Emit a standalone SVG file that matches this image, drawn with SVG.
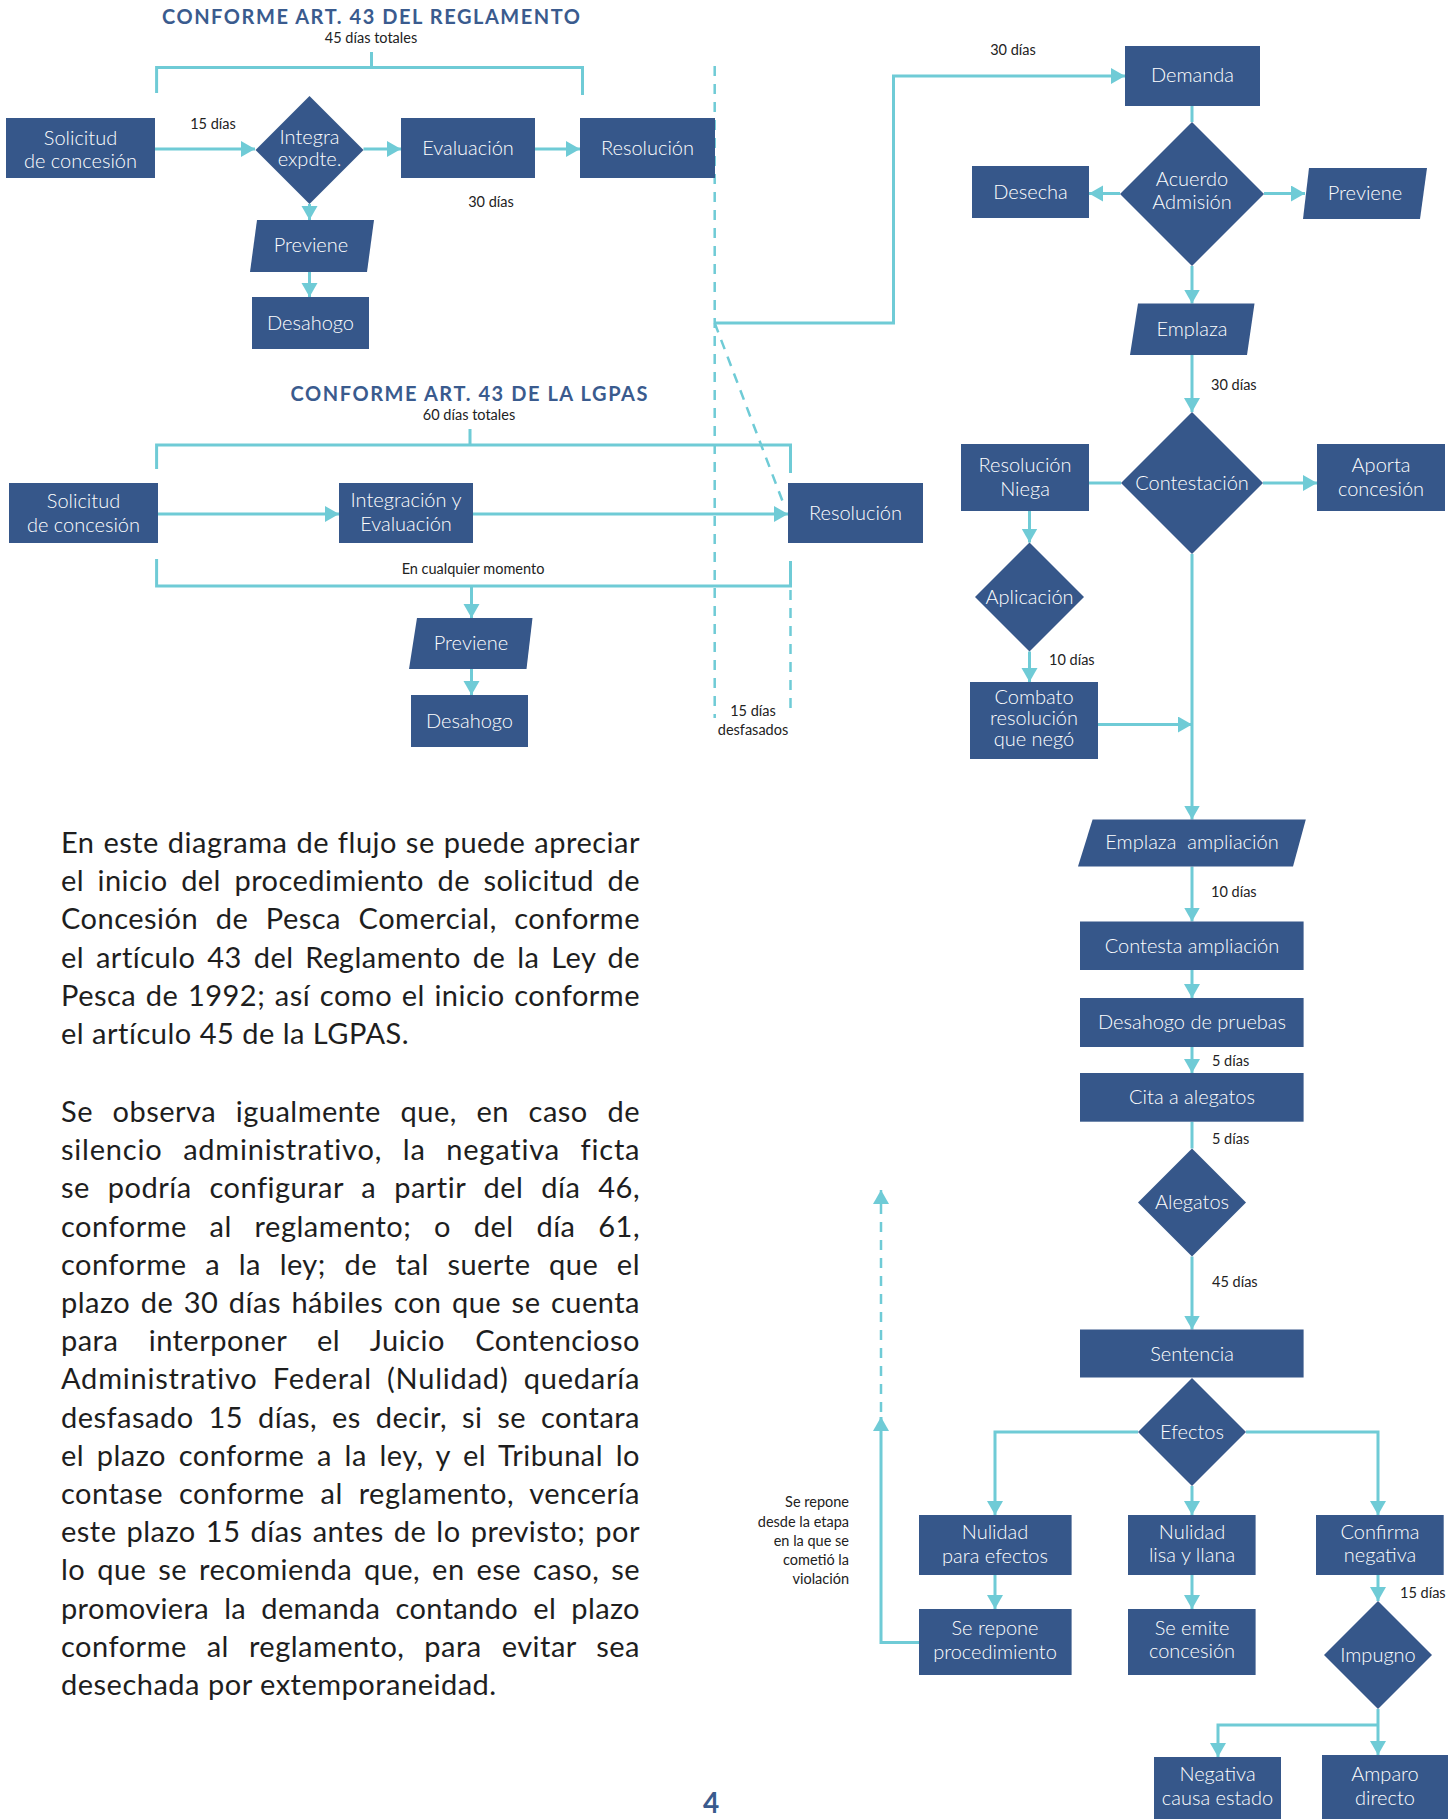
<svg xmlns="http://www.w3.org/2000/svg" width="1453" height="1819" viewBox="0 0 1453 1819">
<style>
.n{fill:#36578a}
.t{font-family:Lato,"Open Sans",sans-serif;font-size:20px;font-weight:300;fill:#fff;text-anchor:middle}
.s{font-family:Lato,"Open Sans",sans-serif;font-size:14.5px;fill:#222}
.m{text-anchor:middle}
.e{text-anchor:end}
.c{stroke:#6fcbd6;stroke-width:3;fill:none}
.d{stroke-dasharray:10 8;stroke-width:2.5}
.p{font-family:Lato,"Open Sans",sans-serif;font-size:29px;letter-spacing:0.5px;fill:#1e1e1e}
.h{font-family:Lato,"Open Sans",sans-serif;font-weight:bold;font-size:20px;fill:#3a5b8e;text-anchor:middle}
</style>
<defs>
<marker id="a" markerUnits="userSpaceOnUse" markerWidth="15" markerHeight="17" refX="14" refY="8" orient="auto">
<path d="M0,0 L14,8 L0,16 Z" fill="#6fcbd6"/>
</marker>
</defs>
<rect width="1453" height="1819" fill="#fff"/>

<g id="connectors">
<path class="c" d="M156.6,93 V67.5 H582.5 V95 M371.5,52 V67.5"/>
<path class="c" d="M155,149 H255" marker-end="url(#a)"/>
<path class="c" d="M363.5,149 H401" marker-end="url(#a)"/>
<path class="c" d="M535,149 H580" marker-end="url(#a)"/>
<path class="c" d="M309.5,204 V220" marker-end="url(#a)"/>
<path class="c" d="M309.5,272 V297" marker-end="url(#a)"/>
<path class="c d" d="M714.7,66 V718"/>
<path class="c d" d="M714.7,323 L784,505"/>
<path class="c d" d="M790.5,590 V713"/>
<path class="c" d="M156.6,469 V445 H790.5 V473 M470,429 V445"/>
<path class="c" d="M158,514 H339" marker-end="url(#a)"/>
<path class="c" d="M473,514 H788" marker-end="url(#a)"/>
<path class="c" d="M156.6,559 V586 H790.5 V561"/>
<path class="c" d="M471.5,586 V618" marker-end="url(#a)"/>
<path class="c" d="M471.5,669 V695" marker-end="url(#a)"/>
<path class="c" d="M714.7,323 H893.5 V76 H1125" marker-end="url(#a)"/>
<path class="c" d="M1192,106 V122"/>
<path class="c" d="M1120,193.5 H1089" marker-end="url(#a)"/>
<path class="c" d="M1264,193.5 H1305" marker-end="url(#a)"/>
<path class="c" d="M1192,266 V303.5" marker-end="url(#a)"/>
<path class="c" d="M1192,355 V412" marker-end="url(#a)"/>
<path class="c" d="M1089,483 H1121"/>
<path class="c" d="M1263,483 H1317" marker-end="url(#a)"/>
<path class="c" d="M1029.5,511 V542.5" marker-end="url(#a)"/>
<path class="c" d="M1029.5,651.5 V682" marker-end="url(#a)"/>
<path class="c" d="M1098,724.5 H1192" marker-end="url(#a)"/>
<path class="c" d="M1192,554 V819.5" marker-end="url(#a)"/>
<path class="c" d="M1192,866.5 V921.5" marker-end="url(#a)"/>
<path class="c" d="M1192,970 V998" marker-end="url(#a)"/>
<path class="c" d="M1192,1047 V1073" marker-end="url(#a)"/>
<path class="c" d="M1192,1121.7 V1148.5"/>
<path class="c" d="M1192,1256.5 V1329.5" marker-end="url(#a)"/>
<path class="c" d="M1138,1432 H995 V1515" marker-end="url(#a)"/>
<path class="c" d="M1192,1486 V1515" marker-end="url(#a)"/>
<path class="c" d="M1246,1432 H1378 V1515" marker-end="url(#a)"/>
<path class="c" d="M995,1575 V1609" marker-end="url(#a)"/>
<path class="c" d="M1192,1575 V1609" marker-end="url(#a)"/>
<path class="c" d="M1378,1575 V1601" marker-end="url(#a)"/>
<path class="c" d="M1378,1709 V1755" marker-end="url(#a)"/>
<path class="c" d="M1378,1725 H1218 V1757" marker-end="url(#a)"/>
<path class="c" d="M919,1642.5 H881 V1417" marker-end="url(#a)"/>
<path class="c d" d="M881,1412 V1190" marker-end="url(#a)"/>
</g>

<text class="h" x="371" y="24" textLength="418" lengthAdjust="spacing">CONFORME ART. 43 DEL REGLAMENTO</text>
<text class="s m" x="371" y="43">45 días totales</text>
<text class="s m" x="213" y="129">15 días</text>
<text class="s m" x="491" y="207">30 días</text>

<g id="r_solicitud"><rect class="n" x="6" y="118" width="149" height="60"/><text class="t" x="80.5" y="145">Solicitud</text><text class="t" x="80.5" y="168">de concesión</text></g>
<g id="r_integra"><polygon class="n" points="309.5,96 363.5,150 309.5,204 255.5,150"/><text class="t" x="309.5" y="144">Integra</text><text class="t" x="309.5" y="166">expdte.</text></g>
<g id="r_evaluacion"><rect class="n" x="401" y="118" width="134" height="60"/><text class="t" x="468" y="155">Evaluación</text></g>
<g id="r_resolucion"><rect class="n" x="580" y="118" width="135" height="60"/><text class="t" x="647.5" y="155">Resolución</text></g>
<g id="r_previene"><polygon class="n" points="257,220 374,220 367,272 250,272"/><text class="t" x="311" y="252">Previene</text></g>
<g id="r_desahogo"><rect class="n" x="252" y="297" width="117" height="52"/><text class="t" x="310.5" y="330">Desahogo</text></g>

<text class="h" x="469" y="401" textLength="357" lengthAdjust="spacing">CONFORME ART. 43 DE LA LGPAS</text>
<text class="s m" x="469" y="420">60 días totales</text>
<text class="s m" x="473" y="574">En cualquier momento</text>
<text class="s m" x="753" y="716">15 días</text>
<text class="s m" x="753" y="735">desfasados</text>

<g id="l_solicitud"><rect class="n" x="9" y="483" width="149" height="60"/><text class="t" x="83.5" y="508">Solicitud</text><text class="t" x="83.5" y="532">de concesión</text></g>
<g id="l_integracion"><rect class="n" x="339" y="483" width="134" height="60"/><text class="t" x="406" y="507">Integración y</text><text class="t" x="406" y="531">Evaluación</text></g>
<g id="l_resolucion"><rect class="n" x="788" y="483" width="135" height="60"/><text class="t" x="855.5" y="520">Resolución</text></g>
<g id="l_previene"><polygon class="n" points="417,618 532.5,618 526.5,669 409,669"/><text class="t" x="471" y="650">Previene</text></g>
<g id="l_desahogo"><rect class="n" x="411" y="695" width="117" height="52"/><text class="t" x="469.5" y="728">Desahogo</text></g>

<text class="s m" x="1013" y="55">30 días</text>
<text class="s" x="1211" y="390">30 días</text>
<text class="s" x="1049" y="665">10 días</text>
<text class="s" x="1211" y="897">10 días</text>
<text class="s" x="1212" y="1066">5 días</text>
<text class="s" x="1212" y="1144">5 días</text>
<text class="s" x="1212" y="1287">45 días</text>
<text class="s" x="1400" y="1598">15 días</text>

<g id="demanda"><rect class="n" x="1125" y="46" width="135" height="60"/><text class="t" x="1192.5" y="82">Demanda</text></g>
<g id="acuerdo"><polygon class="n" points="1192,122 1264,194 1192,266 1120,194"/><text class="t" x="1192" y="186">Acuerdo</text><text class="t" x="1192" y="209">Admisión</text></g>
<g id="desecha"><rect class="n" x="972" y="166" width="117" height="52"/><text class="t" x="1030.5" y="199">Desecha</text></g>
<g id="previene2"><polygon class="n" points="1309,168 1427,168 1420,219 1303,219"/><text class="t" x="1365" y="200">Previene</text></g>
<g id="emplaza"><polygon class="n" points="1138,303.5 1254.5,303.5 1247,355 1130,355"/><text class="t" x="1192" y="336">Emplaza</text></g>
<g id="contestacion"><polygon class="n" points="1192,412 1263,483 1192,554 1121,483"/><text class="t" x="1192" y="490">Contestación</text></g>
<g id="resniega"><rect class="n" x="961" y="444" width="128" height="67"/><text class="t" x="1025" y="472">Resolución</text><text class="t" x="1025" y="496">Niega</text></g>
<g id="aporta"><rect class="n" x="1317" y="444" width="128" height="67"/><text class="t" x="1381" y="472">Aporta</text><text class="t" x="1381" y="496">concesión</text></g>
<g id="aplicacion"><polygon class="n" points="1029.5,542.5 1084,597 1029.5,651.5 975,597"/><text class="t" x="1029.5" y="604">Aplicación</text></g>
<g id="combato"><rect class="n" x="970" y="682" width="128" height="77"/><text class="t" x="1034" y="704" font-size="19">Combato</text><text class="t" x="1034" y="725" font-size="19">resolución</text><text class="t" x="1034" y="746" font-size="19">que negó</text></g>
<g id="emplaza_amp"><polygon class="n" points="1092.6,819.5 1305.8,819.5 1293,866.5 1078,866.5"/><text class="t" x="1192" y="849" xml:space="preserve">Emplaza  ampliación</text></g>
<g id="contesta_amp"><rect class="n" x="1080" y="921.5" width="223.6" height="48.5"/><text class="t" x="1192" y="953">Contesta ampliación</text></g>
<g id="desahogo_pruebas"><rect class="n" x="1080" y="998" width="223.6" height="49"/><text class="t" x="1192" y="1029">Desahogo de pruebas</text></g>
<g id="cita"><rect class="n" x="1080" y="1073" width="223.6" height="48.7"/><text class="t" x="1192" y="1104">Cita a alegatos</text></g>
<g id="alegatos"><polygon class="n" points="1192,1148.5 1246,1202.5 1192,1256.5 1138,1202.5"/><text class="t" x="1192" y="1209">Alegatos</text></g>
<g id="sentencia"><rect class="n" x="1080" y="1329.5" width="223.6" height="48"/><text class="t" x="1192" y="1361">Sentencia</text></g>
<g id="efectos"><polygon class="n" points="1192,1378 1246,1432 1192,1486 1138,1432"/><text class="t" x="1192" y="1439">Efectos</text></g>
<g id="nulidad_efectos"><rect class="n" x="919" y="1515" width="152.6" height="60"/><text class="t" x="995" y="1539">Nulidad</text><text class="t" x="995" y="1563">para efectos</text></g>
<g id="nulidad_lisa"><rect class="n" x="1128" y="1515" width="127.6" height="60"/><text class="t" x="1192" y="1539">Nulidad</text><text class="t" x="1192" y="1562">lisa y llana</text></g>
<g id="confirma"><rect class="n" x="1316" y="1515" width="127.7" height="60"/><text class="t" x="1380" y="1539">Confirma</text><text class="t" x="1380" y="1562">negativa</text></g>
<g id="se_repone"><rect class="n" x="919" y="1609" width="152.6" height="66"/><text class="t" x="995" y="1635">Se repone</text><text class="t" x="995" y="1659">procedimiento</text></g>
<g id="se_emite"><rect class="n" x="1128" y="1609" width="127.6" height="66"/><text class="t" x="1192" y="1635">Se emite</text><text class="t" x="1192" y="1658">concesión</text></g>
<g id="impugno"><polygon class="n" points="1378,1601 1432,1655 1378,1709 1324,1655"/><text class="t" x="1378" y="1662">Impugno</text></g>
<g id="negativa_causa"><rect class="n" x="1154" y="1757" width="127" height="70"/><text class="t" x="1217.5" y="1781">Negativa</text><text class="t" x="1217.5" y="1805">causa estado</text></g>
<g id="amparo"><rect class="n" x="1322" y="1755" width="126" height="70"/><text class="t" x="1385" y="1781">Amparo</text><text class="t" x="1385" y="1805">directo</text></g>

<text class="s e" x="849" y="1507">Se repone</text>
<text class="s e" x="849" y="1526.5">desde la etapa</text>
<text class="s e" x="849" y="1546">en la que se</text>
<text class="s e" x="849" y="1565">cometió la</text>
<text class="s e" x="849" y="1584">violación</text>

<g id="para1" class="p">
<text x="61" y="853" word-spacing="1" textLength="579" lengthAdjust="spacing">En este diagrama de flujo se puede apreciar</text>
<text x="61" y="891.2" word-spacing="5.6" textLength="579" lengthAdjust="spacing">el inicio del procedimiento de solicitud de</text>
<text x="61" y="929.4" word-spacing="9.7" textLength="579" lengthAdjust="spacing">Concesión de Pesca Comercial, conforme</text>
<text x="61" y="967.6" word-spacing="3.9" textLength="579" lengthAdjust="spacing">el artículo 43 del Reglamento de la Ley de</text>
<text x="61" y="1005.8" word-spacing="1.7" textLength="579" lengthAdjust="spacing">Pesca de 1992; así como el inicio conforme</text>
<text x="61" y="1044">el artículo 45 de la LGPAS.</text>
</g>
<g id="para2" class="p">
<text x="61" y="1122" word-spacing="11.8" textLength="579" lengthAdjust="spacing">Se observa igualmente que, en caso de</text>
<text x="61" y="1160.2" word-spacing="12.5" textLength="579" lengthAdjust="spacing">silencio administrativo, la negativa ficta</text>
<text x="61" y="1198.4" word-spacing="10" textLength="579" lengthAdjust="spacing">se podría configurar a partir del día 46,</text>
<text x="61" y="1236.6" word-spacing="14.8" textLength="579" lengthAdjust="spacing">conforme al reglamento; o del día 61,</text>
<text x="61" y="1274.8" word-spacing="10.8" textLength="579" lengthAdjust="spacing">conforme a la ley; de tal suerte que el</text>
<text x="61" y="1313" word-spacing="2.5" textLength="579" lengthAdjust="spacing">plazo de 30 días hábiles con que se cuenta</text>
<text x="61" y="1351.2" word-spacing="22.5" textLength="579" lengthAdjust="spacing">para interponer el Juicio Contencioso</text>
<text x="61" y="1389.4" word-spacing="7" textLength="579" lengthAdjust="spacing">Administrativo Federal (Nulidad) quedaría</text>
<text x="61" y="1427.6" word-spacing="7" textLength="579" lengthAdjust="spacing">desfasado 15 días, es decir, si se contara</text>
<text x="61" y="1465.8" word-spacing="4.8" textLength="579" lengthAdjust="spacing">el plazo conforme a la ley, y el Tribunal lo</text>
<text x="61" y="1504" word-spacing="8" textLength="579" lengthAdjust="spacing">contase conforme al reglamento, vencería</text>
<text x="61" y="1542.2" word-spacing="2.1" textLength="579" lengthAdjust="spacing">este plazo 15 días antes de lo previsto; por</text>
<text x="61" y="1580.4" word-spacing="4" textLength="579" lengthAdjust="spacing">lo que se recomienda que, en ese caso, se</text>
<text x="61" y="1618.6" word-spacing="7.5" textLength="579" lengthAdjust="spacing">promoviera la demanda contando el plazo</text>
<text x="61" y="1656.8" word-spacing="12" textLength="579" lengthAdjust="spacing">conforme al reglamento, para evitar sea</text>
<text x="61" y="1695">desechada por extemporaneidad.</text>
</g>

<text x="711" y="1813" font-family="Lato, sans-serif" font-weight="bold" font-size="28" fill="#3a5b8e" text-anchor="middle">4</text>
</svg>
